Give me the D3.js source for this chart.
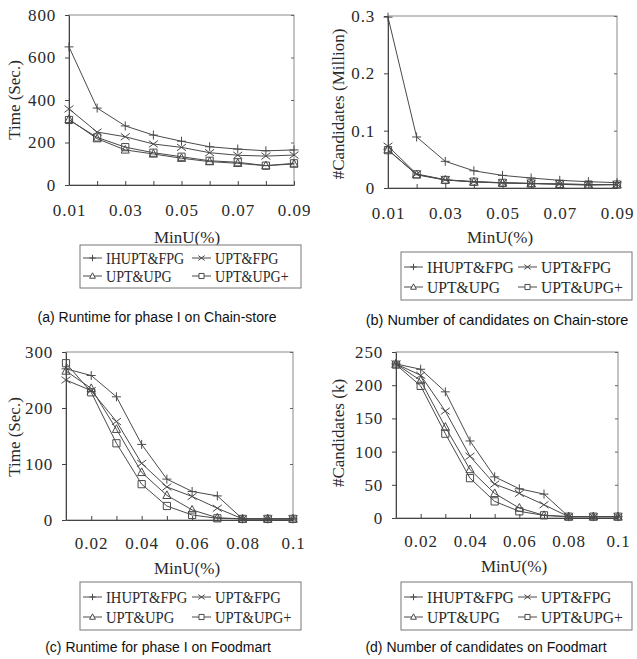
<!DOCTYPE html>
<html>
<head>
<meta charset="utf-8">
<script src="https://cdn.jsdelivr.net/npm/d3@7"></script>
<style>
  body { margin: 0; background: #fff; }
  svg { display: block; }
</style>
</head>
<body>
<div id="chart"></div>
<script>
// x values: MinU(%)
const minuChain = [0.01, 0.02, 0.03, 0.04, 0.05, 0.06, 0.07, 0.08, 0.09];
const minuFood = [0.01, 0.02, 0.03, 0.04, 0.05, 0.06, 0.07, 0.08, 0.09, 0.1];

const seriesNames = ["IHUPT&FPG", "UPT&FPG", "UPT&UPG", "UPT&UPG+"];
const seriesMarks = ["plus", "cross", "triangle", "square"];

// (a) runtime for phase I on Chain-store, sec.
const runChainIHUPT = [650, 362, 278, 235, 206, 180, 169, 161, 165];
const runChainUPTFPG = [358, 249, 227, 193, 177, 152, 140, 136, 141];
const runChainUPTUPG = [309, 218, 165, 146, 126, 110, 102, 91, 99];
const runChainUPTUPGp = [306, 224, 178, 152, 133, 114, 107, 91, 102];

// (b) number of candidates on Chain-store, million
const candChainIHUPT = [0.298, 0.089, 0.0465, 0.030, 0.022, 0.0174, 0.0134, 0.011, 0.0093];
const candChainUPTFPG = [0.073, 0.0244, 0.0145, 0.011, 0.0093, 0.008, 0.007, 0.006, 0.006];
const candChainUPTUPG = [0.067, 0.023, 0.014, 0.0105, 0.0087, 0.0076, 0.0064, 0.005, 0.0058];
const candChainUPTUPGp = [0.066, 0.0238, 0.014, 0.011, 0.009, 0.008, 0.007, 0.006, 0.006];

// (c) runtime for phase I on Foodmart, sec.
const runFoodIHUPT = [270, 258, 220, 135, 73, 51, 43, 2, 2, 2];
const runFoodUPTFPG = [250, 231, 176, 101, 59, 42, 21, 2, 2, 2];
const runFoodUPTUPG = [266, 235, 162, 85, 44, 18, 4, 2, 2, 2];
const runFoodUPTUPGp = [280, 228, 137, 64, 25, 9, 3, 2, 2, 2];

// (d) number of candidates on Foodmart, k
const candFoodIHUPT = [232, 224, 190, 116, 62, 44, 36, 2, 2, 2];
const candFoodUPTFPG = [232, 215, 161, 93, 51, 37, 20, 2, 2, 2];
const candFoodUPTUPG = [232, 207, 137, 73, 37, 15, 4, 2, 2, 2];
const candFoodUPTUPGp = [231, 199, 127, 60, 25, 10, 4, 2, 2, 2];

// tick labels
const yTicksA = [0, 200, 400, 600, 800];
const yTicksB = [0, 0.1, 0.2, 0.3];
const yTicksC = [0, 100, 200, 300];
const yTicksD = [0, 50, 100, 150, 200, 250];
const xLabelsChain = [0.01, 0.03, 0.05, 0.07, 0.09];
const xLabelsFood = [0.02, 0.04, 0.06, 0.08, 0.1];

const panels = [
  { xs: minuChain, series: [runChainIHUPT, runChainUPTFPG, runChainUPTUPG, runChainUPTUPGp],
    yDomain: [0, 800], yTicks: yTicksA, xLabels: xLabelsChain,
    yLabel: "Time (Sec.)", caption: "(a) Runtime for phase I on Chain-store",
    plot: {l: 69, r: 294, t: 15, b: 185}, yLabelPos: [14, 100], xPad: 19,
    minuPos: [187, 237], legend: {x: 80, y: 245, w: 221, h: 43, rows: [13, 31], col2: 112, fs: 16, sq: 0.88},
    capPos: [157, 317], capFs: 14 },
  { xs: minuChain, series: [candChainIHUPT, candChainUPTFPG, candChainUPTUPG, candChainUPTUPGp],
    yDomain: [0, 0.3], yTicks: yTicksB, xLabels: xLabelsChain,
    yLabel: "#Candidates (Million)", caption: "(b) Number of candidates on Chain-store",
    plot: {l: 388, r: 617, t: 16, b: 188}, yLabelPos: [338, 104], xPad: 19,
    minuPos: [500, 237], legend: {x: 401, y: 252, w: 231, h: 48, rows: [15, 35], col2: 117, fs: 17, sq: 0.92},
    capPos: [497, 320], capFs: 14.5 },
  { xs: minuFood, series: [runFoodIHUPT, runFoodUPTFPG, runFoodUPTUPG, runFoodUPTUPGp],
    yDomain: [0, 300], yTicks: yTicksC, xLabels: xLabelsFood,
    yLabel: "Time (Sec.)", caption: "(c) Runtime for phase I on Foodmart",
    plot: {l: 66, r: 293, t: 352, b: 520}, yLabelPos: [14, 437], xPad: 17,
    minuPos: [187, 568], legend: {x: 80, y: 582, w: 221, h: 48, rows: [15, 35], col2: 112, fs: 17, sq: 0.86},
    capPos: [158, 647], capFs: 14 },
  { xs: minuFood, series: [candFoodIHUPT, candFoodUPTFPG, candFoodUPTUPG, candFoodUPTUPGp],
    yDomain: [0, 250], yTicks: yTicksD, xLabels: xLabelsFood,
    yLabel: "#Candidates (k)", caption: "(d) Number of candidates on Foodmart",
    plot: {l: 396, r: 618, t: 352, b: 518}, yLabelPos: [338, 433], xPad: 17,
    minuPos: [514, 566], legend: {x: 401, y: 582, w: 231, h: 48, rows: [15, 35], col2: 117, fs: 17, sq: 0.92},
    capPos: [486, 647], capFs: 14 }
];

const serif = "'Liberation Serif', 'DejaVu Serif', serif";
const sans = "'Liberation Sans', Arial, sans-serif";
const lineColor = "#4a4a4a";
const textColor = "#2a2a2a";

// marker outline around 0,0
function markPath(type, s) {
  if (type === "plus") return `M${-s},0H${s}M0,${-s}V${s}`;
  if (type === "cross") return `M${-s},${-s * 0.75}L${s},${s * 0.75}M${-s},${s * 0.75}L${s},${-s * 0.75}`;
  if (type === "triangle") return `M0,${-s}L${s * 0.9},${s * 0.7}L${-s * 0.9},${s * 0.7}Z`;
  return `M${-s * 0.8},${-s * 0.8}H${s * 0.8}V${s * 0.8}H${-s * 0.8}Z`;
}

const svg = d3.select("#chart")
  .append("svg")
  .attr("width", 637)
  .attr("height", 659);

panels.forEach(function(p) {
  const x = d3.scaleLinear()
    .domain(d3.extent(p.xs))
    .range([p.plot.l, p.plot.r]);
  const y = d3.scaleLinear()
    .domain(p.yDomain)
    .range([p.plot.b, p.plot.t]);

  const g = svg.append("g");

  // frame
  g.append("rect")
    .attr("x", p.plot.l)
    .attr("y", p.plot.t)
    .attr("width", p.plot.r - p.plot.l)
    .attr("height", p.plot.b - p.plot.t)
    .attr("fill", "none")
    .attr("stroke", "#8a8a8a")
    .attr("stroke-width", 1);

  // y axis
  const yAxis = g.append("g")
    .attr("transform", `translate(${p.plot.l},0)`)
    .call(d3.axisLeft(y).tickValues(p.yTicks).tickSize(4).tickSizeOuter(0).tickPadding(9)
      .tickFormat(d => String(d)));
  yAxis.select(".domain").attr("stroke", "#444");
  yAxis.selectAll(".tick line").attr("stroke", "#444");
  yAxis.selectAll("text")
    .attr("font-family", serif)
    .attr("font-size", 17)
    .attr("letter-spacing", 0.8)
    .attr("fill", textColor);

  // inward ticks on the right side
  const yRight = g.append("g")
    .attr("transform", `translate(${p.plot.r},0)`)
    .call(d3.axisRight(y).tickValues(p.yTicks).tickSize(-3).tickSizeOuter(0).tickFormat(""));
  yRight.select(".domain").remove();
  yRight.selectAll(".tick line").attr("stroke", "#666");

  // x axis: inward ticks at each step, labels on alternating ones
  const xAxis = g.append("g")
    .attr("transform", `translate(0,${p.plot.b})`)
    .call(d3.axisBottom(x).tickValues(p.xs).tickSize(-4).tickSizeOuter(0).tickPadding(p.xPad)
      .tickFormat(d => p.xLabels.some(v => Math.abs(v - d) < 1e-9) ? String(d) : ""));
  xAxis.select(".domain").attr("stroke", "#444");
  xAxis.selectAll(".tick line").attr("stroke", "#444");
  xAxis.selectAll("text")
    .attr("font-family", serif)
    .attr("font-size", 17)
    .attr("letter-spacing", 1)
    .attr("fill", textColor);

  // axis titles
  g.append("text")
    .attr("transform", `translate(${p.yLabelPos[0]},${p.yLabelPos[1]}) rotate(-90)`)
    .attr("text-anchor", "middle")
    .attr("dy", "0.35em")
    .attr("font-family", serif)
    .attr("font-size", 17)
    .attr("fill", textColor)
    .text(p.yLabel);

  g.append("text")
    .attr("x", p.minuPos[0])
    .attr("y", p.minuPos[1])
    .attr("text-anchor", "middle")
    .attr("dy", "0.35em")
    .attr("font-family", serif)
    .attr("font-size", 17)
    .attr("fill", textColor)
    .text("MinU(%)");

  // series
  p.series.forEach(function(vals, i) {
    const pts = vals.map((v, j) => [p.xs[j], v]);
    g.append("path")
      .datum(pts)
      .attr("fill", "none")
      .attr("stroke", lineColor)
      .attr("stroke-width", 1)
      .attr("d", d3.line()
        .x(d => x(d[0]))
        .y(d => y(d[1])));
    g.selectAll(null)
      .data(pts)
      .enter()
      .append("path")
      .attr("transform", d => `translate(${x(d[0])},${y(d[1])})`)
      .attr("d", markPath(seriesMarks[i], 4.5))
      .attr("fill", "none")
      .attr("stroke", lineColor)
      .attr("stroke-width", 1);
  });

  // legend
  const L = p.legend;
  const lg = g.append("g").attr("transform", `translate(${L.x},${L.y})`);
  lg.append("rect")
    .attr("width", L.w)
    .attr("height", L.h)
    .attr("fill", "#fff")
    .attr("stroke", "#777")
    .attr("stroke-width", 1);
  seriesNames.forEach(function(name, i) {
    const cx = i % 2 === 0 ? 3 : L.col2;
    const cy = L.rows[Math.floor(i / 2)];
    lg.append("line")
      .attr("x1", cx).attr("x2", cx + 19)
      .attr("y1", cy).attr("y2", cy)
      .attr("stroke", lineColor);
    lg.append("path")
      .attr("transform", `translate(${cx + 9.5},${cy})`)
      .attr("d", markPath(seriesMarks[i], 3.2))
      .attr("fill", "#fff")
      .attr("stroke", lineColor);
    const t = lg.append("text")
      .attr("x", cx + 23)
      .attr("y", cy)
      .attr("dy", "0.35em")
      .attr("font-family", serif)
      .attr("font-size", L.fs)
      .attr("fill", textColor)
      .text(name);
    // squeeze the text a little, the original face is narrower
    const len = t.node().getComputedTextLength();
    t.attr("textLength", len * L.sq).attr("lengthAdjust", "spacingAndGlyphs");
  });

  // caption
  g.append("text")
    .attr("x", p.capPos[0])
    .attr("y", p.capPos[1])
    .attr("text-anchor", "middle")
    .attr("dy", "0.35em")
    .attr("font-family", sans)
    .attr("font-size", p.capFs)
    .attr("fill", "#111")
    .text(p.caption);
});
</script>
</body>
</html>
